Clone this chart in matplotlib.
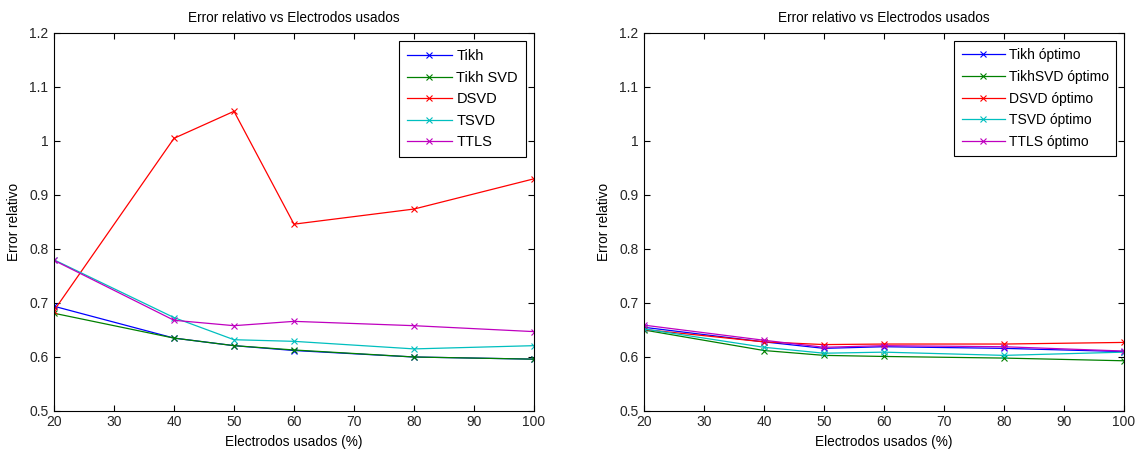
import matplotlib
matplotlib.use("Agg")
import matplotlib.pyplot as plt

plt.rcParams['font.family'] = ['Liberation Sans', 'DejaVu Sans']

electrodos = [20, 40, 50, 60, 80, 100]

# Panel izquierdo
tikh = [0.694, 0.635, 0.621, 0.612, 0.600, 0.596]
tikh_svd = [0.681, 0.635, 0.621, 0.613, 0.600, 0.596]
dsvd = [0.686, 1.005, 1.055, 0.846, 0.874, 0.930]
tsvd = [0.780, 0.673, 0.632, 0.629, 0.615, 0.621]
ttls = [0.779, 0.668, 0.658, 0.666, 0.658, 0.647]

# Panel derecho (óptimos)
tikh_opt = [0.655, 0.628, 0.616, 0.619, 0.616, 0.610]
tikhsvd_opt = [0.650, 0.612, 0.603, 0.601, 0.598, 0.593]
dsvd_opt = [0.651, 0.628, 0.623, 0.624, 0.624, 0.627]
tsvd_opt = [0.652, 0.618, 0.607, 0.609, 0.603, 0.609]
ttls_opt = [0.659, 0.631, 0.618, 0.621, 0.619, 0.611]

colores = ['#0000ff', '#008000', '#ff0000', '#00bfbf', '#bf00bf']
etiquetas_izq = ['Tikh', 'Tikh SVD', 'DSVD', 'TSVD', 'TTLS']
etiquetas_der = ['Tikh óptimo', 'TikhSVD óptimo', 'DSVD óptimo', 'TSVD óptimo', 'TTLS óptimo']

fig = plt.figure(figsize=(11.42, 4.5), dpi=100)
ax1 = fig.add_axes([54 / 1142, 39 / 450, 480 / 1142, 378 / 450])
ax2 = fig.add_axes([644 / 1142, 39 / 450, 480 / 1142, 378 / 450])


def dibujar(ax, series, etiquetas, leg_size, spacing):
    for y, lab, c in zip(series, etiquetas, colores):
        ax.plot(electrodos, y, color=c, marker='x', markersize=4,
                markeredgewidth=0.8, linewidth=0.9, label=lab)
    ax.set_xlim(20, 100)
    ax.set_ylim(0.5, 1.2)
    ax.set_xticks(range(20, 101, 10))
    ax.set_yticks([0.5, 0.6, 0.7, 0.8, 0.9, 1.0, 1.1, 1.2])
    ax.set_yticklabels(['0.5', '0.6', '0.7', '0.8', '0.9', '1', '1.1', '1.2'])
    ax.tick_params(direction='in', top=True, right=True, labelsize=10,
                   length=4, labelcolor='#262626')
    ax.tick_params(axis='x', pad=3)
    ax.tick_params(axis='y', pad=4)
    ax.set_title('Error relativo vs Electrodos usados', fontsize=9.8, pad=8)
    ax.set_xlabel('Electrodos usados (%)', fontsize=9.8, labelpad=4)
    ax.set_ylabel('Error relativo', fontsize=9.8, labelpad=6)
    leg = ax.legend(loc='upper right', fontsize=leg_size, fancybox=False,
                    edgecolor='black', framealpha=1, handlelength=3.1,
                    borderaxespad=0.55, labelspacing=spacing, handletextpad=0.3,
                    borderpad=0.55)
    leg.get_frame().set_linewidth(0.8)


dibujar(ax1, [tikh, tikh_svd, dsvd, tsvd, ttls], etiquetas_izq, 10.5, 0.52)
dibujar(ax2, [tikh_opt, tikhsvd_opt, dsvd_opt, tsvd_opt, ttls_opt], etiquetas_der, 10, 0.55)

fig.savefig('out.png', dpi=100)
